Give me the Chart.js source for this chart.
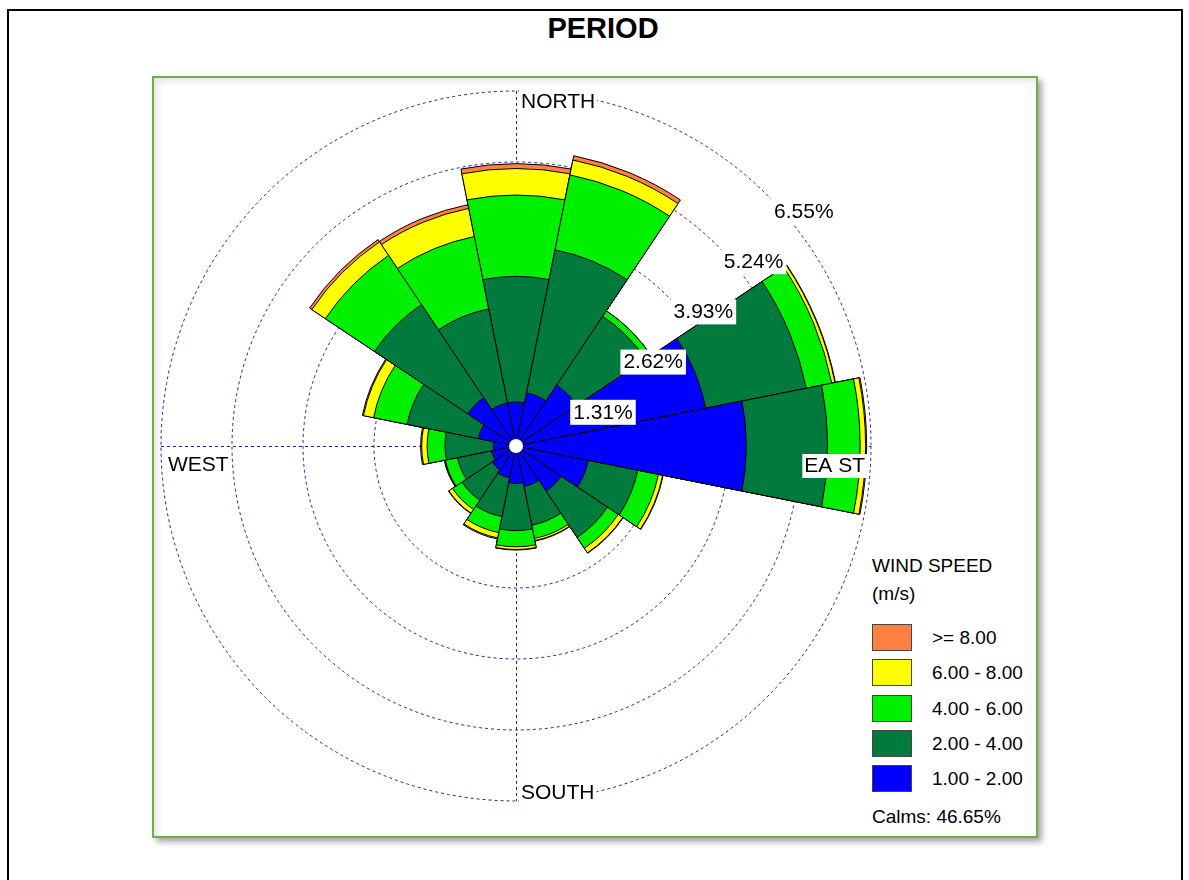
<!DOCTYPE html>
<html>
<head>
<meta charset="utf-8">
<script src="https://cdn.jsdelivr.net/npm/chart.js@4.4.0/dist/chart.umd.min.js"></script>
<style>
html,body{margin:0;padding:0;background:#fff;width:1189px;height:880px;overflow:hidden;font-family:"Liberation Sans",Arial,sans-serif;color:#000;}
#frame{position:absolute;left:7px;top:9px;width:1172px;height:900px;border:2px solid #000;}
#title{position:absolute;left:503px;width:200px;top:12px;text-align:center;font-weight:bold;font-size:29px;line-height:32px;}
#box{position:absolute;left:152px;top:76px;width:882px;height:758px;border:2px solid #70ad47;box-shadow:4px 4px 6px rgba(0,0,0,0.35), inset 3px 3px 7px rgba(0,0,0,0.12);background:#fff;}
#chart{position:absolute;left:0;top:0;}
.lg{position:absolute;font-size:19px;line-height:22px;white-space:nowrap;}
.sw{position:absolute;left:872px;width:38px;height:25px;border:1px solid #444;}
</style>
</head>
<body>
<div id="frame"></div>
<div id="title">PERIOD</div>
<div id="box"></div>
<div id="legend"></div>
<canvas id="chart" width="1189" height="880"></canvas>
<script>
// ---- data (percent of all hours) ----
const directions = ['N','NNE','NE','ENE','E','ESE','SE','SSE','S','SSW','SW','WSW','W','WNW','NW','NNW'];
const speed1to2 = [0.81,1.00,1.35,3.57,4.25,1.36,1.00,0.76,0.69,0.60,0.53,0.46,0.42,0.71,1.07,0.81];
const speed2to4 = [2.32,2.69,1.53,1.89,1.50,0.93,1.03,0.73,0.87,0.73,0.67,0.64,0.89,1.34,2.07,1.77];
const speed4to6 = [1.50,1.41,0.12,0.48,0.60,0.39,0.24,0.25,0.30,0.30,0.21,0.23,0.33,0.63,1.09,1.36];
const speed6to8 = [0.49,0.28,0.00,0.06,0.10,0.08,0.10,0.04,0.05,0.10,0.08,0.01,0.10,0.19,0.30,0.53];
const speedGe8  = [0.09,0.08,0.00,0.01,0.02,0.01,0.01,0.01,0.01,0.02,0.01,0.01,0.02,0.02,0.05,0.07];
const ringTicks = [0, 1.31, 2.62, 3.93, 5.24, 6.55];
const classLabels = ['1.00 - 2.00','2.00 - 4.00','4.00 - 6.00','6.00 - 8.00','>= 8.00'];
const classColors = ['#0000ff','#007a3d','#00f000','#ffff00','#ff8040'];
const calmsText = 'Calms: 46.65%';
const GRID_COLOR = '#22229a';

// cumulative (stacked) radii for each class
const classes = [speed1to2, speed2to4, speed4to6, speed6to8, speedGe8];
const cumulative = [];
classes.forEach((arr, k) => {
  cumulative.push(arr.map((v, i) => +(classes.slice(0, k + 1).reduce((s, a) => s + a[i], 0)).toFixed(2)));
});

// ---- HTML legend ----
const lg = document.getElementById('legend');
function addText(txt, left, cy) {
  const d = document.createElement('div');
  d.className = 'lg'; d.textContent = txt;
  d.style.left = left + 'px'; d.style.top = (cy - 11) + 'px';
  lg.appendChild(d);
}
addText('WIND SPEED', 872, 566);
addText('(m/s)', 872, 594);
for (let j = 0; j < 5; j++) {
  const k = 4 - j;
  const top = 624 + j * 35.3;
  const sw = document.createElement('div');
  sw.className = 'sw'; sw.style.top = top + 'px'; sw.style.background = classColors[k];
  lg.appendChild(sw);
  addText(classLabels[k], 932, top + 14);
}
addText(calmsText, 872, 817);

// ---- plugin: cross axes, calm circle, labels ----
const rosePlugin = {
  id: 'rose',
  beforeDatasetsDraw(chart) {
    const s = chart.scales.r, ctx = chart.ctx;
    const cx = s.xCenter, cy = s.yCenter, R = s.getDistanceFromCenterForValue(s.max);
    ctx.save();
    ctx.strokeStyle = GRID_COLOR; ctx.lineWidth = 1; ctx.setLineDash([3, 3]);
    ctx.beginPath();
    ctx.moveTo(cx + 0.5, cy - R); ctx.lineTo(cx + 0.5, cy + R);
    ctx.moveTo(cx - R, cy + 0.5); ctx.lineTo(cx + R, cy + 0.5);
    ctx.stroke();
    ctx.restore();
  },
  afterDatasetsDraw(chart) {
    const s = chart.scales.r, ctx = chart.ctx;
    const cx = s.xCenter, cy = s.yCenter, R = s.getDistanceFromCenterForValue(s.max);
    ctx.save();
    // calm circle
    ctx.fillStyle = '#fff';
    ctx.beginPath(); ctx.arc(cx, cy, 7, 0, Math.PI * 2); ctx.fill();
    ctx.font = '21px "Liberation Sans", Arial, sans-serif';
    ctx.textBaseline = 'middle';
    // ring labels along the 45 degree diagonal
    ringTicks.slice(1).forEach(v => {
      const r = s.getDistanceFromCenterForValue(v);
      const px = cx + r * Math.SQRT1_2, py = cy - r * Math.SQRT1_2;
      const txt = v.toFixed(2) + '%';
      const w = ctx.measureText(txt).width;
      ctx.fillStyle = '#fff';
      ctx.fillRect(px + 4, py + 4, w + 6, 25);
      ctx.fillStyle = '#000';
      ctx.textAlign = 'left';
      ctx.fillText(txt, px + 7, py + 17);
    });
    // direction labels
    function lab(txt, x, y, align) {
      ctx.textAlign = align;
      const w = ctx.measureText(txt).width;
      const lx = align === 'left' ? x : x - w;
      ctx.fillStyle = '#fff';
      ctx.fillRect(lx - 2, y - 12, w + 4, 24);
      ctx.fillStyle = '#000';
      ctx.fillText(txt, x, y);
    }
    lab('NORTH', cx + 5, cy - R + 11, 'left');
    lab('SOUTH', cx + 5, cy + R - 8, 'left');
    lab('WEST', cx - R + 7, cy + 19, 'left');
    lab('EA ST', cx + R - 6, cy + 20, 'right');
    ctx.restore();
  }
};

new Chart(document.getElementById('chart'), {
  type: 'polarArea',
  data: {
    labels: directions,
    datasets: cumulative.map((vals, k) => ({
      label: classLabels[k],
      data: vals,
      backgroundColor: classColors[k],
      borderColor: '#000',
      borderWidth: 1
    }))
  },
  options: {
    responsive: false,
    animation: false,
    events: [],
    layout: { padding: { left: 161, top: 91, right: 318, bottom: 79 } },
    plugins: { legend: { display: false }, tooltip: { enabled: false }, title: { display: false } },
    scales: {
      r: {
        type: 'radialLinear',
        min: 0,
        max: 6.55,
        startAngle: -11.25,
        ticks: { display: false },
        afterBuildTicks(scale) { scale.ticks = ringTicks.map(v => ({ value: v })); },
        grid: { circular: true, color: GRID_COLOR, lineWidth: 1 },
        border: { dash: [3, 3] },
        angleLines: { display: false },
        pointLabels: { display: false }
      }
    }
  },
  plugins: [rosePlugin]
});
</script>
</body>
</html>
